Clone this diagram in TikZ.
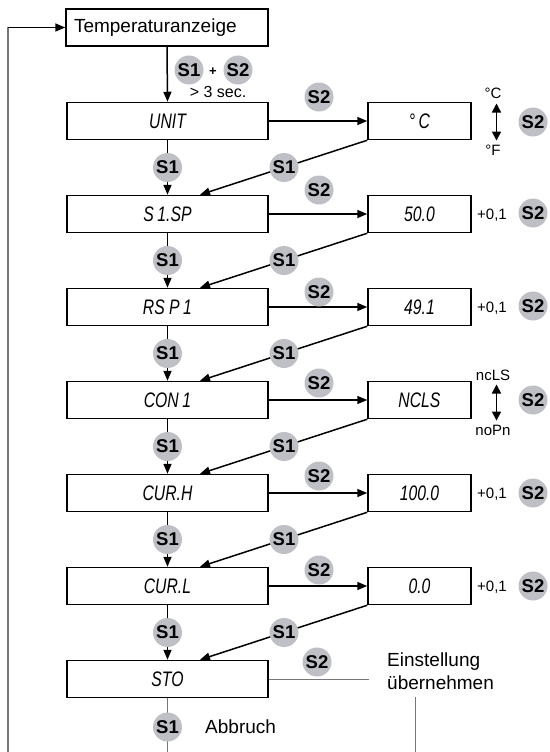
\documentclass[tikz,border=0pt]{standalone}
\usepackage{fontspec}
\setmainfont{Liberation Sans}
\newfontfamily\segfont[FakeStretch=0.75]{Liberation Sans}
\usetikzlibrary{arrows.meta, positioning, calc}
\definecolor{btngray}{RGB}{190,192,198}
\definecolor{linegray}{RGB}{118,118,118}

\tikzset{
  menubox/.style={draw, line width=1.5pt, minimum width=201pt, minimum height=37pt, inner sep=0pt,
    font=\segfont\itshape\fontsize{21}{21}\selectfont},
  valbox/.style={menubox, minimum width=103pt},
  btn/.style={circle, fill=btngray, minimum size=29pt, inner sep=0pt, font=\bfseries\fontsize{18.5}{19}\selectfont},
  flow/.style={line width=1.5pt, -{Triangle[length=10pt,width=8pt]}},
  dbl/.style={line width=1.6pt, {Triangle[length=9pt,width=9pt]}-{Triangle[length=9pt,width=9pt]}},
  grayline/.style={draw=linegray, line width=1pt},
  note/.style={font=\fontsize{15}{17}\selectfont, inner sep=0pt},
  label18/.style={font=\fontsize{19}{23}\selectfont, inner sep=0pt},
}

\begin{document}
\begin{tikzpicture}[x=1pt, y=-1pt]
  \useasboundingbox (0,0) rectangle (549,752);

  % menu column
  \node[menubox, minimum width=202pt, text width=186pt, align=left, font=\fontsize{19}{23}\selectfont] (temp) at (167,27.5) {Temperaturanzeige};
  \node[menubox] (unit) at (167.5,121) {UNIT};
  \node[menubox] (sisp) at (167.5,214) {S\,1.SP};
  \node[menubox] (rsp)  at (167.5,307) {RS P\,1};
  \node[menubox] (con)  at (167.5,400) {CON\,1};
  \node[menubox] (curh) at (167.5,493) {CUR.H};
  \node[menubox] (curl) at (167.5,586) {CUR.L};
  \node[menubox] (sto)  at (167.5,679) {STO};

  % value column
  \node[valbox] (unitv) at (419.5,121) {°\,C};
  \node[valbox] (sispv) at (419.5,214) {50.0};
  \node[valbox] (rspv)  at (419.5,307) {49.1};
  \node[valbox] (conv)  at (419.5,400) {NCLS};
  \node[valbox] (curhv) at (419.5,493) {100.0};
  \node[valbox] (curlv) at (419.5,586) {0.0};

  % loop back
  \coordinate (loopTop) at (8,27.5);
  \coordinate (loopBot) at (8,752);
  \draw[draw=linegray, line width=1.5pt] (loopBot) -- (loopTop);
  \draw[flow] (loopTop) -- (temp);

  % down the menu
  \draw[flow] (temp.south) -- (unit.north);
  \draw[flow] (unit) -- (sisp);
  \draw[flow] (sisp) -- (rsp);
  \draw[flow] (rsp) -- (con);
  \draw[flow] (con) -- (curh);
  \draw[flow] (curh) -- (curl);
  \draw[flow] (curl) -- (sto);

  % into the values
  \draw[flow] (unit) -- (unitv);
  \draw[flow] (sisp) -- (sispv);
  \draw[flow] (rsp) -- (rspv);
  \draw[flow] (con) -- (conv);
  \draw[flow] (curh) -- (curhv);
  \draw[flow] (curl) -- (curlv);

  % back to the next item
  \draw[flow] (unitv.south west) -- ([xshift=32.5pt]sisp.north);
  \draw[flow] (sispv.south west) -- ([xshift=32.5pt]rsp.north);
  \draw[flow] (rspv.south west) -- ([xshift=32.5pt]con.north);
  \draw[flow] (conv.south west) -- ([xshift=32.5pt]curh.north);
  \draw[flow] (curhv.south west) -- ([xshift=32.5pt]curl.north);
  \draw[flow] (curlv.south west) -- ([xshift=32.5pt]sto.north);

  % store / abort
  \node[label18, anchor=west, align=left] (einst) at (387,671.5) {Einstellung\\übernehmen};
  \draw[grayline] (sto.east) -- (sto.east -| einst.west) [shorten >=18pt];
  \coordinate (storeTop) at (415,697);
  \coordinate (storeBot) at (415,752);
  \draw[grayline] (storeTop) -- (storeBot);
  \coordinate (abortBot) at (167.5,752);
  \draw[grayline] (sto) -- (abortBot);
  \node[btn] (abort) at (167.5,727) {S1};
  \node[label18, anchor=west] (abbr) at (205,727) {Abbruch};

  % entry keys
  \node[btn] (entryA) at (189,70) {S1};
  \node[font=\bfseries\fontsize{13}{13}\selectfont, inner sep=0pt] (plus) at (213,71.5) {+};
  \node[btn] (entryB) at (238,70) {S2};
  \node[note, font=\fontsize{16}{18}\selectfont] (hold) at (218,92) {> 3 sec.};

  % S1 keys down the menu
  \node[btn] (k1) at ($(unit.south)!0.5!(sisp.north)$) {S1};
  \node[btn] (k2) at ($(sisp.south)!0.5!(rsp.north)$) {S1};
  \node[btn] (k3) at ($(rsp.south)!0.5!(con.north)$) {S1};
  \node[btn] (k4) at ($(con.south)!0.5!(curh.north)$) {S1};
  \node[btn] (k5) at ($(curh.south)!0.5!(curl.north)$) {S1};
  \node[btn] (k6) at ($(curl.south)!0.5!(sto.north)$) {S1};

  % S1 keys on the way back
  \node[btn] (r1) at (284,167.5) {S1};
  \node[btn] (r2) at (284,260.5) {S1};
  \node[btn] (r3) at (284,353.5) {S1};
  \node[btn] (r4) at (284,446.5) {S1};
  \node[btn] (r5) at (284,539.5) {S1};
  \node[btn] (r6) at (284,632.5) {S1};

  % S2 keys above the arrows
  \node[btn] (e1) at (319,97) {S2};
  \node[btn] (e2) at (319,190) {S2};
  \node[btn] (e3) at (319,292) {S2};
  \node[btn] (e4) at (319,383) {S2};
  \node[btn] (e5) at (319,476) {S2};
  \node[btn] (e6) at (319,570) {S2};
  \node[btn] (e7) at (317,662) {S2};

  % changing values
  \node[note] (degc) at (493,93) {°C};
  \node[note] (degf) at (493,150) {°F};
  \draw[dbl] ([xshift=3.5pt]degc.south) -- ([xshift=3.5pt]degf.north) [shorten <=5pt, shorten >=4pt];
  \node[btn] (v1) at (533,122) {S2};

  \node[note] (inc2) at (492,215) {+0,1};
  \node[btn] (v2) at (533,213) {S2};
  \node[note] (inc3) at (492,308) {+0,1};
  \node[btn] (v3) at (533,306) {S2};

  \node[note] (ncls) at (493,375) {ncLS};
  \node[note] (nopn) at (493,430) {noPn};
  \draw[dbl] ([xshift=3.5pt]ncls.south) -- ([xshift=3.5pt]nopn.north) [shorten <=4pt, shorten >=4pt];
  \node[btn] (v4) at (533,400) {S2};

  \node[note] (inc5) at (492,494) {+0,1};
  \node[btn] (v5) at (533,493) {S2};
  \node[note] (inc6) at (492,587) {+0,1};
  \node[btn] (v6) at (533,586) {S2};
\end{tikzpicture}
\end{document}
